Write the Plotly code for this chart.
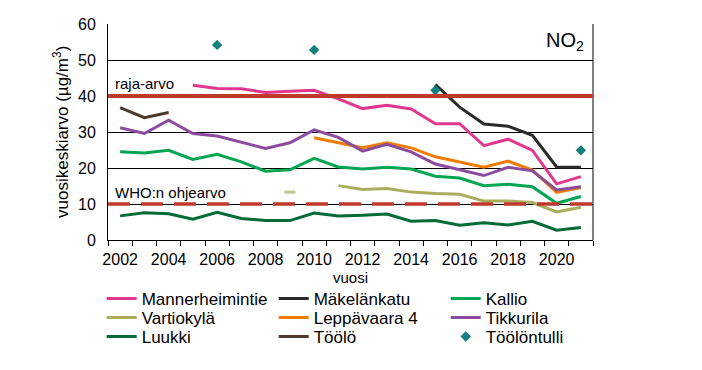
import plotly.graph_objects as go

years = list(range(2002, 2022))

mannerheimintie = [None, None, None, 43.0, 42.1, 42.0, 41.0, 41.3, 41.6, 39.2,
                   36.5, 37.4, 36.4, 32.3, 32.3, 26.2, 28.0, 24.9, 15.6, 17.6]
makelankatu = [None] * 13 + [43.2, 36.9, 32.2, 31.6, 29.1, 20.3, 20.2]
kallio = [24.5, 24.2, 24.9, 22.4, 23.8, 21.7, 19.1, 19.5, 22.7, 20.3,
          19.7, 20.2, 19.7, 17.7, 17.2, 15.1, 15.5, 14.8, 10.2, 12.1]
vartiokyla = [None, None, None, None, None, None, None, 13.3, None, 15.1,
              14.0, 14.3, 13.3, 12.9, 12.7, 10.8, 10.8, 10.4, 7.8, 9.1]
leppavaara = [None] * 8 + [28.4, 27.1, 25.6, 27.0, 25.6, 23.1, 21.7, 20.2,
                           21.9, 19.4, 13.2, 14.6]
tikkurila = [31.2, 29.6, 33.3, 29.6, 28.9, 27.1, 25.4, 27.0, 30.6, 28.5,
             24.7, 26.6, 24.5, 21.1, 19.6, 17.9, 20.2, 19.2, 13.9, 14.8]
luukki = [6.7, 7.6, 7.3, 5.8, 7.7, 6.0, 5.4, 5.4, 7.5, 6.7,
          6.9, 7.2, 5.2, 5.4, 4.1, 4.8, 4.2, 5.2, 2.7, 3.5]
toolo = [36.8, 34.0, 35.4] + [None] * 17
toolontulli = [None, None, None, None, 54.2, None, None, None, 52.8, None,
               None, None, None, 41.6, None, None, None, None, None, 24.9]

raja_arvo = 40
who_ohjearvo = 10
tick_years = list(range(2002, 2021, 2))

FONT = "Liberation Sans, Arial, sans-serif"

series = [
    ("Mannerheimintie", mannerheimintie, "#E2378E", "legend"),
    ("Mäkelänkatu", makelankatu, "#2B2B2B", "legend"),
    ("Kallio", kallio, "#00A651", "legend"),
    ("Vartiokylä", vartiokyla, "#A8AE5C", "legend2"),
    ("Leppävaara 4", leppavaara, "#F07D00", "legend2"),
    ("Tikkurila", tikkurila, "#8B4C9E", "legend2"),
    ("Luukki", luukki, "#006B36", "legend3"),
    ("Töölö", toolo, "#4D3A2B", "legend3"),
]

fig = go.Figure()

for name, vals, col, lg in series:
    if name == "Vartiokylä":
        # isolated point drawn as a short dash
        sizes = [0] * len(vals)
        sizes[years.index(2009)] = 8
        fig.add_trace(go.Scatter(
            x=years, y=vals, name=name, mode="lines+markers", legend=lg,
            line=dict(color=col, width=3),
            marker=dict(symbol="line-ew", size=sizes,
                        line=dict(color=col, width=3), color=col),
            connectgaps=False))
    else:
        fig.add_trace(go.Scatter(
            x=years, y=vals, name=name, mode="lines", legend=lg,
            line=dict(color=col, width=3), connectgaps=False))

fig.add_trace(go.Scatter(
    x=years, y=toolontulli, name="Töölöntulli", mode="markers", legend="legend3",
    marker=dict(symbol="diamond", size=8, color="#138080")))

# reference lines
fig.add_shape(type="line", xref="paper", x0=0, x1=1, yref="y",
              y0=raja_arvo, y1=raja_arvo,
              line=dict(color="#C0392B", width=4), layer="above")
fig.add_shape(type="line", xref="paper", x0=0, x1=1, yref="y",
              y0=who_ohjearvo, y1=who_ohjearvo,
              line=dict(color="#C0392B", width=3.5, dash="22px,11px"),
              layer="above")

fig.add_annotation(text="raja-arvo", xref="paper", yref="y", x=0.01, y=raja_arvo,
                   xanchor="left", yanchor="bottom", yshift=2, showarrow=False,
                   font=dict(size=15, color="black", family=FONT))
fig.add_annotation(text="WHO:n ohjearvo", xref="paper", yref="y", x=0.01,
                   y=who_ohjearvo, xanchor="left", yanchor="bottom", yshift=1,
                   showarrow=False, font=dict(size=15, color="black", family=FONT))
fig.add_annotation(text="NO<sub>2</sub>", xref="paper", yref="paper", x=0.985, y=0.985,
                   xanchor="right", yanchor="top", showarrow=False,
                   font=dict(size=20, color="black", family=FONT))
# axis titles
fig.add_annotation(text="vuosi", xref="paper", yref="paper", x=0.5, y=0,
                   xanchor="center", yanchor="middle", yshift=-37,
                   showarrow=False, font=dict(size=15, color="black", family=FONT))
fig.add_annotation(text="vuosikeskiarvo (µg/m<sup>3</sup>)", xref="paper",
                   yref="paper", x=0, y=0.5, xanchor="center", yanchor="middle",
                   xshift=-47, textangle=-90, showarrow=False,
                   font=dict(size=17, color="black", family=FONT))

# the page places the figure 8 px from the window's top-left corner
W, H = 694, 362
ML, MT = 100, 16
PW, PH = 485, 216

def row_y(page_y):
    return 1 - (page_y - 8 - MT) / PH

legend_common = dict(orientation="h", xref="paper", x=-0.013, xanchor="left",
                     yref="paper", yanchor="middle",
                     entrywidth=127, entrywidthmode="pixels",
                     font=dict(size=17, family=FONT, color="black"),
                     bgcolor="rgba(0,0,0,0)", traceorder="normal")

fig.update_layout(
    width=W, height=H,
    margin=dict(l=ML, r=W - ML - PW, t=MT, b=H - MT - PH, autoexpand=False),
    paper_bgcolor="white", plot_bgcolor="white",
    font=dict(family=FONT, color="black"),
    showlegend=True,
    legend=dict(legend_common, y=row_y(299)),
    legend2=dict(legend_common, y=row_y(318)),
    legend3=dict(legend_common, y=row_y(337)),
    xaxis=dict(range=[2001.5, 2021.5], tickmode="array", tickvals=tick_years,
               ticktext=[str(y) for y in tick_years], ticks="",
               ticklabelstandoff=5,
               showgrid=False, showline=True, linecolor="black", linewidth=1,
               mirror=False, zeroline=False,
               tickfont=dict(size=16, family=FONT, color="black"),
               minor=dict(tickmode="linear", tick0=2001.5, dtick=1,
                          ticks="outside", ticklen=5, tickcolor="black",
                          tickwidth=1, showgrid=False)),
    yaxis=dict(range=[0, 60], dtick=10, tick0=0, showgrid=True,
               gridcolor="black", gridwidth=1, showline=True,
               linecolor="black", linewidth=1, zeroline=False,
               ticks="", ticklabelstandoff=8,
               tickfont=dict(size=16, family=FONT, color="black")),
)

# right border
fig.add_shape(type="line", xref="paper", yref="paper", x0=1, x1=1, y0=0, y1=1,
              line=dict(color="black", width=1), layer="below")

fig.write_html("out.html")
